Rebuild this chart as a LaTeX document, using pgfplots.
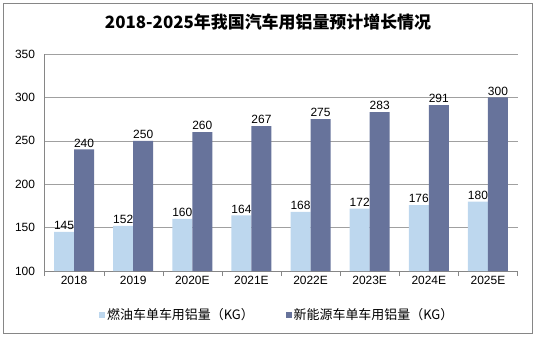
\documentclass[border=0pt]{standalone}
\usepackage{pgfplots}
\pgfplotsset{compat=1.18}
\usepackage{fontspec}
\setmainfont{Liberation Sans}
\newfontfamily\cjk{Noto Sans CJK SC}
\definecolor{lightb}{RGB}{189,215,238}
\definecolor{darkb}{RGB}{103,115,155}
\definecolor{gridc}{RGB}{160,160,160}
\definecolor{axc}{RGB}{134,134,134}
\begin{document}
\begin{tikzpicture}[x=1bp,y=1bp]
\path[use as bounding box] (0,0) rectangle (535,337);
\draw[color=axc,line width=0.8bp] (3,4) rectangle (532,334);
\node[font=\cjk\bfseries\fontsize{17}{20}\selectfont] at (268,315) {2018-2025年我国汽车用铝量预计增长情况};
\begin{axis}[
  at={(44.5bp,66bp)}, anchor=south west,
  width=473bp, height=217bp, scale only axis,
  ymin=100, ymax=350, ytick={100,150,...,350},
  xmin=-0.5, xmax=7.5,
  ybar=0pt, bar width=20bp,
  xtick={0,...,7},
  xticklabels={2018,2019,2020E,2021E,2022E,2023E,2024E,2025E},
  minor xtick={-0.5,0.5,...,7.5},
  major tick length=0pt,
  minor tick length=5bp,
  tick align=outside,
  every minor tick/.style={color=axc},
  axis x line*=bottom, axis y line*=left,
  axis line style={color=axc, line width=0.8bp, -},
  ymajorgrids, grid style={color=gridc, line width=0.6bp},
  tick label style={font=\fontsize{12}{14}\selectfont},
  /pgf/number format/assume math mode=true,
  yticklabel style={xshift=-6bp},
  xticklabel style={yshift=-2bp},
  nodes near coords,
  every node near coord/.append style={font=\fontsize{12}{14}\selectfont, inner sep=2bp},
  legend style={draw=none, fill=none, at={(0.492,-0.203)}, anchor=center, font=\cjk\fontsize{13}{15}\selectfont, legend columns=2, /tikz/every even column/.append style={column sep=30bp}},
  legend image code/.code={\fill[#1] (0bp,-3bp) rectangle (6bp,3bp);},
  legend cell align=left,
]
\addplot[fill=lightb, draw=none] coordinates {(0,145) (1,152) (2,160) (3,164) (4,168) (5,172) (6,176) (7,180)};
\addplot[fill=darkb, draw=none] coordinates {(0,240) (1,250) (2,260) (3,267) (4,275) (5,283) (6,291) (7,300)};
\legend{燃油车单车用铝量（KG）, 新能源车单车用铝量（KG）}
\end{axis}
\end{tikzpicture}
\end{document}
